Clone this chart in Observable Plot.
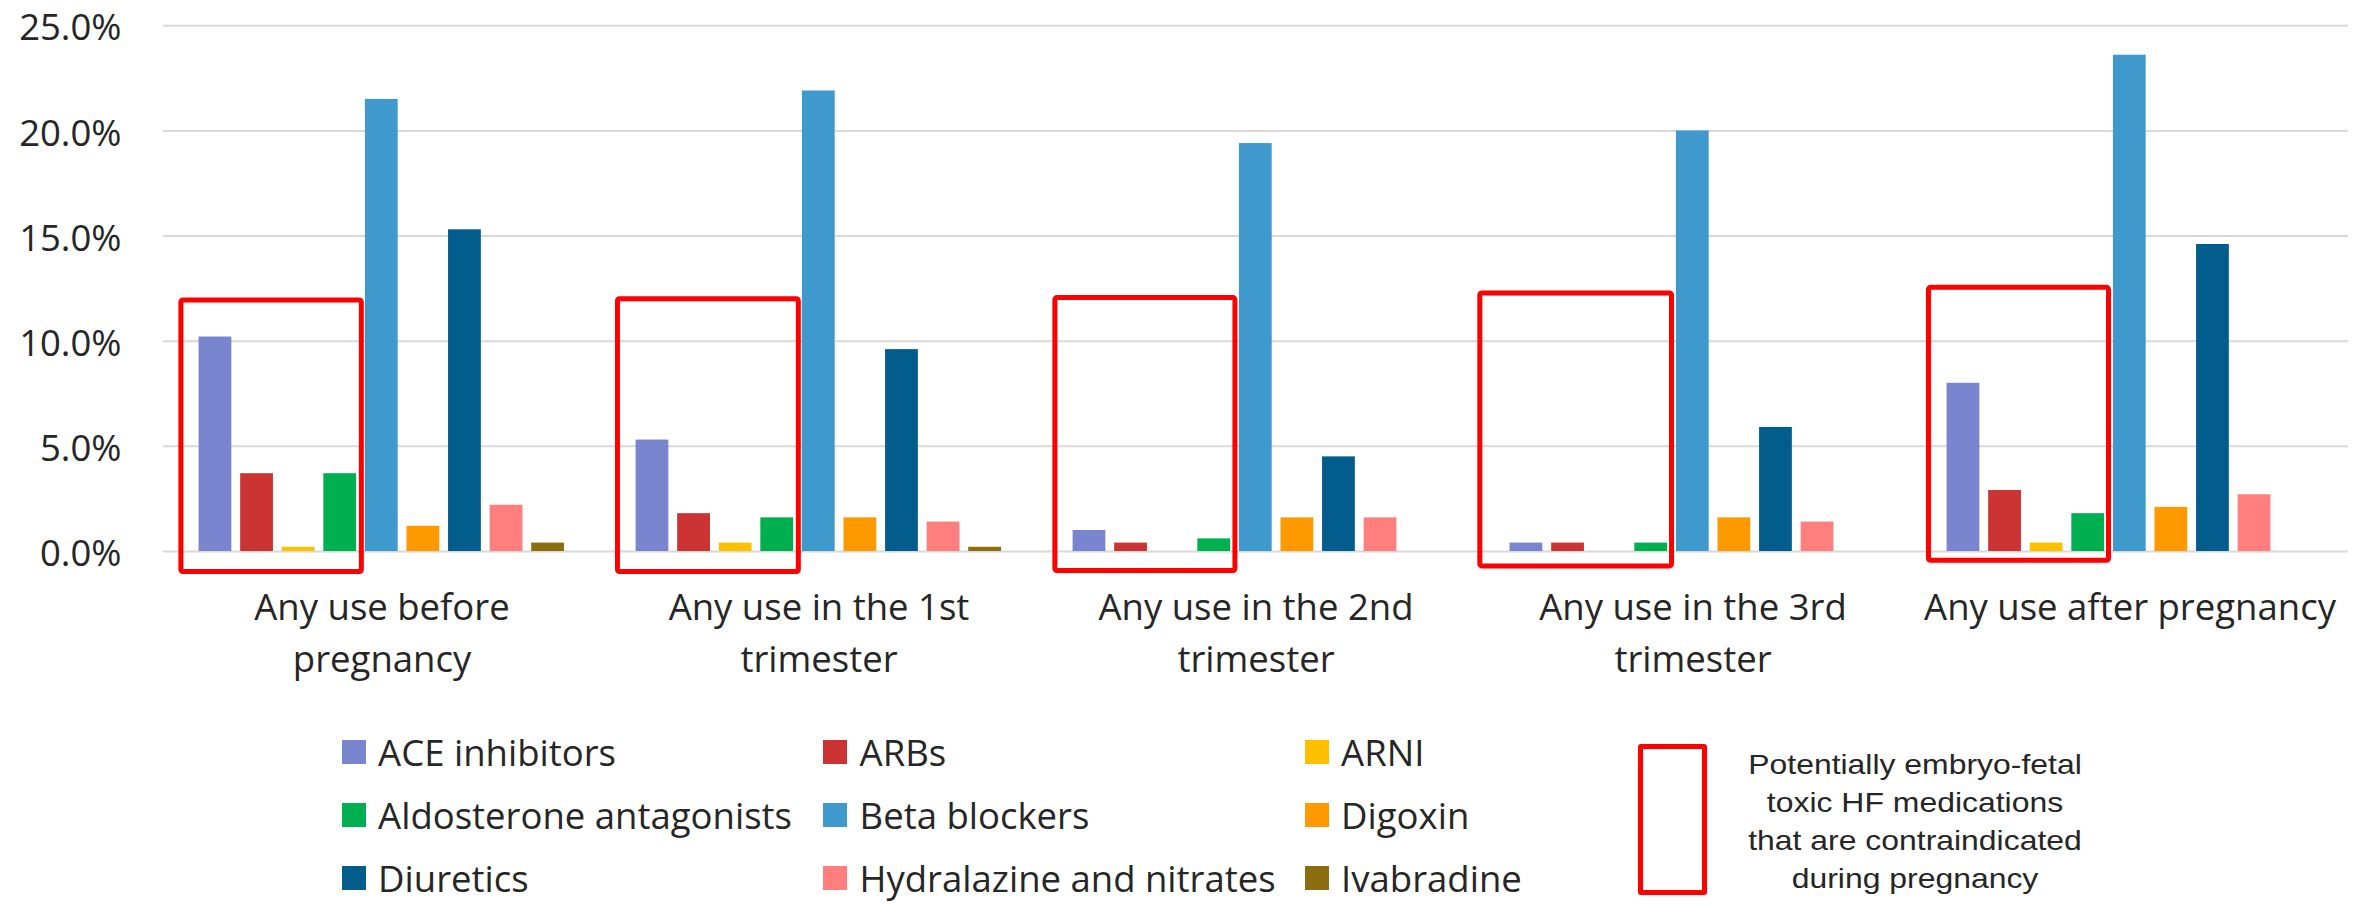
<!DOCTYPE html>
<html><head><meta charset="utf-8">
<script src="https://cdn.jsdelivr.net/npm/d3@7"></script>
<script src="https://cdn.jsdelivr.net/npm/@observablehq/plot@0.6"></script>
<style>
html,body{margin:0;padding:0;background:#fff;}
#wrap{position:relative;width:2371px;height:905px;overflow:hidden;font-family:"Open Sans";color:#262626;background:#fff;}
#wrap > svg{display:block;}
#legend{position:absolute;left:341.8px;top:720.5px;display:grid;grid-template-columns:repeat(3,481.5px);grid-auto-rows:63px;}
.item{display:flex;align-items:center;font-size:36.5px;line-height:1;white-space:nowrap;}
.sw{width:24px;height:24px;margin-right:12.3px;flex:none;}
#boxkey{position:absolute;left:1638.3px;top:744.3px;width:68.4px;height:150.7px;box-sizing:border-box;border:5px solid #ff0000;border-radius:3px;}
#boxtext{position:absolute;left:1768px;top:746.4px;width:294px;text-align:center;font-family:"Liberation Sans";font-size:28px;line-height:37.8px;white-space:nowrap;transform:scaleX(1.14);transform-origin:center top;}
</style></head><body><div id="wrap"></div>
<script>
// categories
const groups = [
  "Any use before\npregnancy",
  "Any use in the 1st\ntrimester",
  "Any use in the 2nd\ntrimester",
  "Any use in the 3rd\ntrimester",
  "Any use after pregnancy"
];
const seriesNames = ["ACE inhibitors", "ARBs", "ARNI", "Aldosterone antagonists", "Beta blockers", "Digoxin", "Diuretics", "Hydralazine and nitrates", "Ivabradine"];
const seriesColors = ["#7a85d0", "#cc3333", "#ffc000", "#00b050", "#3f99cc", "#ff9900", "#025c8c", "#ff7f7f", "#8c6d0f"];

// series values (%), one entry per group
const aceInhibitors = [10.2, 5.3, 1.0, 0.4, 8.0];
const arbs          = [3.7, 1.8, 0.4, 0.4, 2.9];
const arni          = [0.2, 0.4, 0.0, 0.0, 0.4];
const aldosterone   = [3.7, 1.6, 0.6, 0.4, 1.8];
const betaBlockers  = [21.5, 21.9, 19.4, 20.0, 23.6];
const digoxin       = [1.2, 1.6, 1.6, 1.6, 2.1];
const diuretics     = [15.3, 9.6, 4.5, 5.9, 14.6];
const hydralazine   = [2.2, 1.4, 1.6, 1.4, 2.7];
const ivabradine    = [0.4, 0.2, 0.0, 0.0, 0.0];

// y ticks
const yTicks = [0, 5, 10, 15, 20, 25];

// highlighted (contraindicated) boxes per group, in data units (bar index / percent)
const boxLeft   = [-0.32, -0.33, -0.32, -0.61, -0.33];
const boxRight  = [4.02, 4.02, 4.01, 4.0, 4.0];
const boxTop    = [11.94, 12.0, 12.05, 12.27, 12.54];
const boxBottom = [-0.98, -0.98, -0.93, -0.71, -0.44];

const seriesValues = [aceInhibitors, arbs, arni, aldosterone, betaBlockers, digoxin, diuretics, hydralazine, ivabradine];
const data = [];
seriesValues.forEach((vals, si) => vals.forEach((v, gi) => data.push({group: groups[gi], series: seriesNames[si], idx: si, value: v})));
const boxes = groups.map((g, i) => ({group: g, x1: boxLeft[i], x2: boxRight[i], y1: boxBottom[i], y2: boxTop[i]}));

const chart = Plot.plot({
  width: 2371,
  height: 722,
  marginLeft: 160.7,
  marginRight: 21,
  marginTop: 25.3,
  marginBottom: 171,
  style: {fontFamily: "Open Sans", fontSize: "36.5px", color: "#262626", background: "white", overflow: "visible"},
  fx: {domain: groups, padding: 0},
  x: {domain: [-0.75, 9.76], axis: null},
  y: {domain: [0, 25], axis: null},
  color: {domain: seriesNames, range: seriesColors},
  marks: [
    Plot.gridY(yTicks, {stroke: "#d9d9d9", strokeOpacity: 1, strokeWidth: 2}),
    Plot.rectY(data, {fx: "group", x: "idx", interval: 1, y: "value", fill: "series", insetLeft: 4.4, insetRight: 4.4}),
    Plot.rect(boxes, {fx: "group", x1: "x1", x2: "x2", y1: "y1", y2: "y2", fill: "none", stroke: "#ff0000", strokeWidth: 5, rx: 2}),
    Plot.axisY(yTicks, {tickSize: 0, tickPadding: 42, tickFormat: d => d.toFixed(1) + "%", fontSize: 36.5, dy: 3}),
    Plot.axisFx({anchor: "bottom", tickSize: 0, tickPadding: 32, fontSize: 36.5, lineHeight: 1.42, label: null})
  ]
});

const wrap = document.getElementById("wrap");
wrap.appendChild(chart);

const legend = document.createElement("div");
legend.id = "legend";
seriesNames.forEach((name, i) => {
  const item = document.createElement("div");
  item.className = "item";
  const sw = document.createElement("span");
  sw.className = "sw";
  sw.style.background = seriesColors[i];
  const label = document.createElement("span");
  label.textContent = name;
  item.appendChild(sw);
  item.appendChild(label);
  legend.appendChild(item);
});
wrap.appendChild(legend);

const boxKey = document.createElement("div");
boxKey.id = "boxkey";
wrap.appendChild(boxKey);
const boxText = document.createElement("div");
boxText.id = "boxtext";
["Potentially embryo-fetal", "toxic HF medications", "that are contraindicated", "during pregnancy"].forEach(t => {
  const line = document.createElement("div");
  line.textContent = t;
  boxText.appendChild(line);
});
wrap.appendChild(boxText);
</script></body></html>
